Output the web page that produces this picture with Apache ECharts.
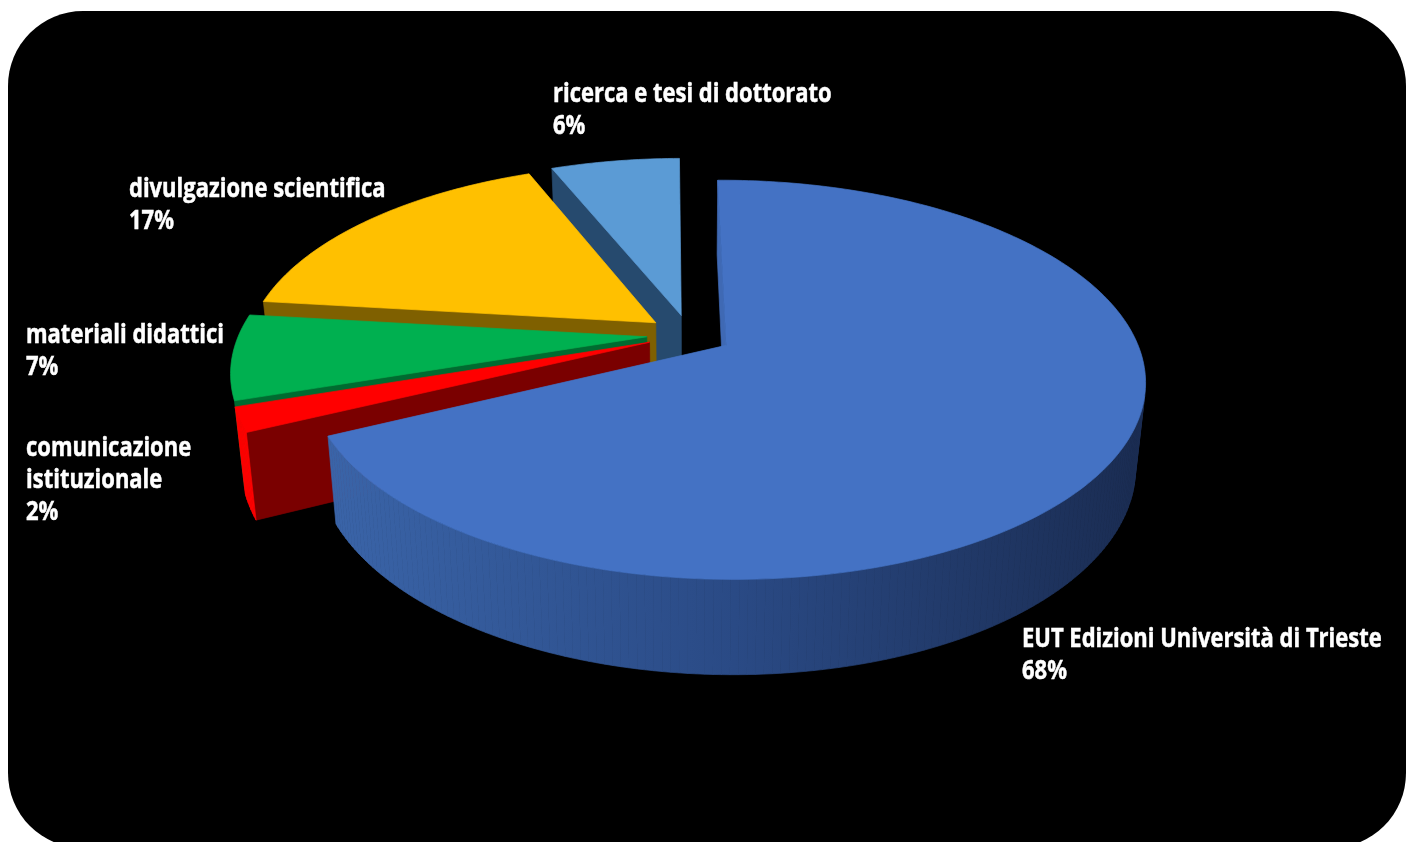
<!DOCTYPE html>
<html>
<head>
<meta charset="utf-8">
<style>html,body{margin:0;padding:0;background:#fff}#c{width:1414px;height:842px}</style>
<script src="https://cdn.jsdelivr.net/npm/echarts@6/dist/echarts.min.js"></script>
</head>
<body>
<div id="c"></div>
<script>
// Data, clockwise from the top of the pie
const categories = ['EUT Edizioni Università di Trieste', 'comunicazione\nistituzionale', 'materiali didattici', 'divulgazione scientifica', 'ricerca e tesi di dottorato'];
const shares = [68, 2, 7, 17, 6];
// Styles
const blueWall = {
  type: 'linear', x: 330, y: 0, x2: 1140, y2: 0, global: true,
  colorStops: [{ offset: 0, color: '#3A64A8' }, { offset: 0.5, color: '#2A4A85' }, { offset: 1, color: '#1A2C52' }]
};
const topColors = ['#4472C4', '#FF0000', '#00B050', '#FFC000', '#5B9BD5'];
const faceColors = ['#3F69B4', '#7A0000', '#006B30', '#7F6000', '#264A6E'];
const wallColors = [blueWall, '#FF0000', null, '#A67C00', '#2E5A85'];
const labelAnchors = [[1022, 623], [26, 432], [26, 319], [129, 173], [553, 78]];

// Perspective model of the disk
const CX = 689.5, CY = 334.7, RX = 408, RY = 190, PERSP = 0.171, DEPTH = 82.5, SHRINK = 0.022, EXPLODE = 0.105;
const ROTATION = -0.5 * Math.PI / 180;
function project(u, v, z) {
  const s = 1 / (1 + PERSP * v), f = 1 - SHRINK * z;
  return [CX + RX * u * s * f, CY - RY * v * s * f + DEPTH * z * s];
}
const total = shares.reduce((a, b) => a + b, 0);
let cum = 0;
const slices = shares.map((val, i) => {
  const a0 = ROTATION + cum / total * 2 * Math.PI;
  cum += val;
  const a1 = ROTATION + cum / total * 2 * Math.PI, mid = (a0 + a1) / 2;
  return { i, a0, a1, ou: EXPLODE * Math.sin(mid), ov: EXPLODE * Math.cos(mid) };
});

function arc(sl, z) {
  const n = Math.max(2, Math.ceil((sl.a1 - sl.a0) / (Math.PI / 180))), pts = [];
  for (let k = 0; k <= n; k++) {
    const a = sl.a0 + (sl.a1 - sl.a0) * k / n;
    pts.push(project(sl.ou + Math.sin(a), sl.ov + Math.cos(a), z));
  }
  return pts;
}
function poly(points, fill) {
  return { type: 'polygon', shape: { points }, style: { fill, stroke: fill, lineWidth: 0.7 } };
}
// A side surface faces the viewer when its outline winds this way on screen
function facesViewer(pts) {
  let area = 0;
  pts.forEach((p, k) => {
    const q = pts[(k + 1) % pts.length];
    area += p[0] * q[1] - q[0] * p[1];
  });
  return area < 0;
}
function renderSlice(params) {
  const sl = slices[params.dataIndex], i = sl.i;
  const top = arc(sl, 0), bot = arc(sl, 1), last = top.length - 1;
  const apexT = project(sl.ou, sl.ov, 0), apexB = project(sl.ou, sl.ov, 1);
  const children = [];
  const addIfVisible = (pts, fill) => { if (fill && facesViewer(pts)) children.push(poly(pts, fill)); };
  addIfVisible([top[last], apexT, apexB, bot[last]], faceColors[i]);
  addIfVisible([apexT, top[0], bot[0], apexB], faceColors[i]);
  for (let k = 0; k < last; k++) {
    addIfVisible([top[k], top[k + 1], bot[k + 1], bot[k]], wallColors[i]);
  }
  children.push(poly([apexT].concat(top), topColors[i]));
  return { type: 'group', children };
}
function renderLabel(params) {
  const i = slices[params.dataIndex].i;
  return {
    type: 'text', x: labelAnchors[i][0], y: labelAnchors[i][1], scaleX: 0.814, z2: 100,
    style: {
      text: categories[i] + '\n' + shares[i] + '%',
      fill: '#fff', stroke: '#fff', lineWidth: 0.5,
      fontFamily: '"Open Sans","Noto Sans",sans-serif', fontWeight: 'bold',
      fontSize: 27, lineHeight: 32, align: 'left', verticalAlign: 'top'
    }
  };
}
const order = slices.map(s => ({ value: shares[s.i], name: categories[s.i] }));
const chart = echarts.init(document.getElementById('c'), null, { renderer: 'canvas' });
// slices are listed clockwise; painted from last to first so nearer ones overlap
slices.reverse();
order.reverse();
chart.setOption({
  animation: false,
  backgroundColor: '#fff',
  graphic: [{ type: 'rect', z: -10, shape: { x: 8, y: 11, width: 1398, height: 837, r: 75 }, style: { fill: '#000' } }],
  series: [
    { type: 'custom', coordinateSystem: 'none', renderItem: renderSlice, data: order, z: 2, silent: true },
    { type: 'custom', coordinateSystem: 'none', renderItem: renderLabel, data: order, z: 3, silent: true }
  ]
});
</script>
</body>
</html>
